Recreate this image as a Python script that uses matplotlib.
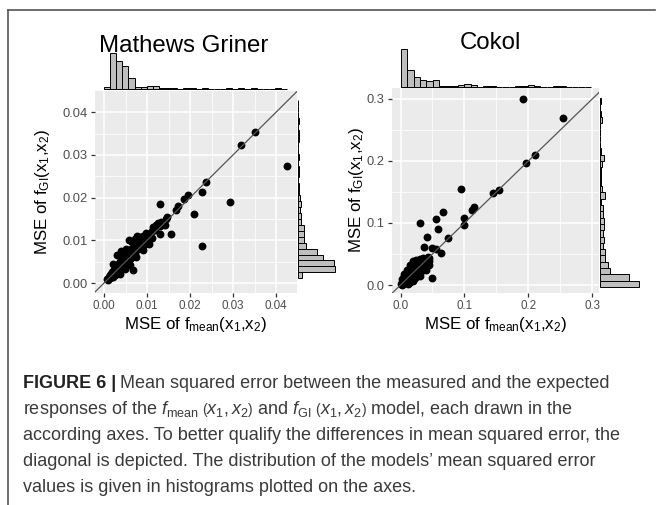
import numpy as np
import matplotlib
matplotlib.use("Agg")
import matplotlib.pyplot as plt
from matplotlib.lines import Line2D

plt.rcParams['font.family'] = ['Liberation Sans', 'DejaVu Sans']
plt.rcParams['mathtext.fontset'] = 'custom'
plt.rcParams['mathtext.rm'] = 'Liberation Sans'
plt.rcParams['mathtext.it'] = 'Liberation Sans:italic'
plt.rcParams['mathtext.bf'] = 'Liberation Sans:bold'

# ---- Mathews Griner: MSE of f_mean (x) vs MSE of f_GI (y)
mg_x = [0.0350, 0.0319, 0.0426, 0.0236, 0.0228, 0.0294, 0.0129, 0.0195, 0.0185, 0.0171,
        0.0168, 0.0209, 0.0147, 0.0155, 0.0129, 0.0228, 0.0057, 0.0138, 0.0068,
        0.0008, 0.0010, 0.0012, 0.0013, 0.0015, 0.0016, 0.0017, 0.0018, 0.0019, 0.0020,
        0.0021, 0.0022, 0.0023, 0.0024, 0.0025, 0.0026, 0.0027, 0.0028, 0.0029, 0.0030,
        0.0031, 0.0032, 0.0033, 0.0034, 0.0035, 0.0036, 0.0037, 0.0038, 0.0039, 0.0040,
        0.0041, 0.0042, 0.0043, 0.0044, 0.0046, 0.0047, 0.0048, 0.0050, 0.0051, 0.0052,
        0.0054, 0.0055, 0.0056, 0.0058, 0.0060, 0.0061, 0.0063, 0.0065, 0.0066, 0.0069,
        0.0071, 0.0073, 0.0075, 0.0077, 0.0078, 0.0080, 0.0083, 0.0085, 0.0088, 0.0090,
        0.0093, 0.0095, 0.0099, 0.0103, 0.0107, 0.0111, 0.0114, 0.0118, 0.0121, 0.0125,
        0.0129, 0.0133, 0.0138, 0.0142, 0.0145, 0.0028, 0.0045, 0.0052, 0.0035, 0.0062,
        0.0040, 0.0050, 0.0030, 0.0065, 0.0072, 0.0060, 0.0075, 0.0090, 0.0105, 0.0020,
        0.0038, 0.0048, 0.0085, 0.0098, 0.0112]
mg_y = [0.0353, 0.0323, 0.0274, 0.0237, 0.0212, 0.0190, 0.0184, 0.0207, 0.0196, 0.0180,
        0.0171, 0.0162, 0.0154, 0.0115, 0.0114, 0.0087, 0.0101, 0.0140, 0.0030,
        0.0010, 0.0008, 0.0015, 0.0011, 0.0019, 0.0013, 0.0022, 0.0016, 0.0025, 0.0019,
        0.0014, 0.0028, 0.0022, 0.0031, 0.0018, 0.0026, 0.0034, 0.0022, 0.0030, 0.0038,
        0.0025, 0.0042, 0.0033, 0.0028, 0.0046, 0.0037, 0.0050, 0.0031, 0.0043, 0.0055,
        0.0036, 0.0048, 0.0058, 0.0040, 0.0052, 0.0061, 0.0045, 0.0057, 0.0064, 0.0048,
        0.0060, 0.0069, 0.0052, 0.0065, 0.0073, 0.0056, 0.0070, 0.0078, 0.0061, 0.0075,
        0.0083, 0.0068, 0.0088, 0.0110, 0.0079, 0.0092, 0.0108, 0.0084, 0.0096, 0.0111,
        0.0089, 0.0103, 0.0112, 0.0098, 0.0110, 0.0122, 0.0131, 0.0125, 0.0135, 0.0140,
        0.0133, 0.0143, 0.0140, 0.0136, 0.0150, 0.0040, 0.0060, 0.0058, 0.0030, 0.0080,
        0.0075, 0.0080, 0.0065, 0.0095, 0.0104, 0.0042, 0.0062, 0.0078, 0.0092, 0.0045,
        0.0022, 0.0032, 0.0100, 0.0118, 0.0105]

# marginal histogram counts (30 bins each)
mg_top_counts = [2, 36, 28, 23, 11, 2, 2, 3, 3, 1, 1, 1, 0, 1, 1, 0, 1, 0, 0, 0,
                 1, 0, 1, 0, 1, 0, 0, 0, 1, 0]
mg_right_counts = [4, 37, 36, 25, 19, 8, 6, 6, 6, 3, 3, 2, 3, 2, 1, 1, 0, 1, 1, 0,
                   1, 0, 0, 1, 1, 0, 1, 0, 0, 0]

# ---- Cokol
ck_x = [0.192, 0.254, 0.210, 0.197, 0.154, 0.144, 0.094, 0.115, 0.112, 0.100, 0.099,
        0.067, 0.055, 0.058, 0.031, 0.041, 0.075, 0.037, 0.050, 0.055, 0.063, 0.050,
        0.001, 0.002, 0.003, 0.004, 0.005, 0.006, 0.007, 0.008, 0.009, 0.010, 0.011,
        0.012, 0.013, 0.014, 0.015, 0.016, 0.017, 0.018, 0.019, 0.020, 0.021, 0.022,
        0.023, 0.024, 0.025, 0.026, 0.027, 0.028, 0.029, 0.030, 0.031, 0.032, 0.033,
        0.034, 0.035, 0.036, 0.037, 0.038, 0.039, 0.040, 0.041, 0.042, 0.043, 0.044,
        0.045, 0.010, 0.012, 0.015, 0.008, 0.020, 0.006, 0.018, 0.022, 0.025, 0.028,
        0.032, 0.035, 0.038, 0.013, 0.016, 0.003, 0.005, 0.002, 0.004, 0.006, 0.003,
        0.005, 0.010, 0.015, 0.020, 0.025, 0.030, 0.012, 0.020, 0.030, 0.040, 0.045,
        0.035, 0.028, 0.018]
ck_y = [0.300, 0.269, 0.210, 0.196, 0.154, 0.148, 0.155, 0.126, 0.121, 0.108, 0.097,
        0.118, 0.107, 0.090, 0.100, 0.077, 0.075, 0.061, 0.059, 0.058, 0.051, 0.012,
        0.002, 0.001, 0.004, 0.002, 0.006, 0.003, 0.008, 0.005, 0.011, 0.007, 0.014,
        0.009, 0.017, 0.011, 0.020, 0.013, 0.023, 0.015, 0.026, 0.017, 0.028, 0.019,
        0.030, 0.021, 0.032, 0.023, 0.033, 0.025, 0.034, 0.027, 0.036, 0.029, 0.031,
        0.038, 0.030, 0.035, 0.040, 0.033, 0.037, 0.042, 0.036, 0.040, 0.045, 0.039,
        0.043, 0.020, 0.024, 0.027, 0.016, 0.033, 0.012, 0.008, 0.012, 0.016, 0.018,
        0.022, 0.025, 0.028, 0.003, 0.006, 0.010, 0.014, 0.005, 0.007, 0.009, 0.000,
        0.018, 0.025, 0.032, 0.038, 0.040, 0.042, 0.002, 0.006, 0.015, 0.025, 0.032,
        0.044, 0.038, 0.030]

ck_top_counts = [38, 17, 10, 7, 6, 7, 1, 1, 1, 2, 3, 2, 0, 1, 1, 0, 0, 0, 1, 1,
                 2, 1, 0, 0, 1, 1, 0, 0, 0, 0]
ck_right_counts = [39, 29, 10, 8, 5, 5, 3, 4, 3, 4, 4, 3, 3, 1, 5, 2, 1, 1, 1, 2,
                   4, 1, 0, 0, 0, 0, 2, 1, 0, 1]

W, H = 657, 505
fig = plt.figure(figsize=(W / 100, H / 100), dpi=100)


def rect(x0, y0, x1, y1):
    return [x0 / W, 1 - y1 / H, (x1 - x0) / W, (y1 - y0) / H]


def scatter_panel(r, x, y, lim_x, lim_y, major, minor, fmt):
    ax = fig.add_axes(r)
    ax.set_facecolor('#EBEBEB')
    ax.set_xlim(lim_x)
    ax.set_ylim(lim_y)
    ax.set_xticks(major)
    ax.set_yticks(major)
    ax.set_xticks(minor, minor=True)
    ax.set_yticks(minor, minor=True)
    ax.set_xticklabels([fmt % v for v in major])
    ax.set_yticklabels([fmt % v for v in major])
    ax.grid(True, which='major', color='white', lw=1.1)
    ax.grid(True, which='minor', color='white', lw=0.55)
    ax.set_axisbelow(True)
    for s in ax.spines.values():
        s.set_visible(False)
    ax.tick_params(which='major', length=3, width=0.9, color='#333333',
                   labelcolor='#4D4D4D', pad=2)
    ax.tick_params(axis='x', labelsize=8.4)
    ax.tick_params(axis='y', labelsize=9.3)
    ax.tick_params(which='minor', length=0)
    ax.scatter(x, y, s=32, c='black', lw=0, zorder=3)
    lo = min(lim_x[0], lim_y[0])
    hi = max(lim_x[1], lim_y[1])
    ax.plot([lo, hi], [lo, hi], color='#555555', lw=0.9, zorder=4)
    return ax


def top_hist(r, counts, start, width, lim_x):
    ax = fig.add_axes(r)
    centers = start + width * np.arange(len(counts))
    ax.bar(centers, counts, width=width, color='#BEBEBE', edgecolor='black',
           lw=0.7, clip_on=False)
    ax.set_xlim(lim_x)
    ax.set_ylim(0, max(counts))
    ax.axis('off')


def right_hist(r, counts, start, width, lim_y):
    ax = fig.add_axes(r)
    centers = start + width * np.arange(len(counts))
    ax.barh(centers, counts, height=width, color='#BEBEBE', edgecolor='black',
            lw=0.7, clip_on=False)
    ax.set_ylim(lim_y)
    ax.set_xlim(0, max(counts))
    ax.axis('off')


# left panel
mg_lx, mg_ly = (-0.0021, 0.0448), (-0.00227, 0.04496)
scatter_panel(rect(95, 91, 296.7, 292.7), mg_x, mg_y, mg_lx, mg_ly,
              [0, 0.01, 0.02, 0.03, 0.04], [0.005, 0.015, 0.025, 0.035], '%.2f')
top_hist(rect(95, 53.3, 296.7, 89.5), mg_top_counts, 0.00071, 0.00142, mg_lx)
right_hist(rect(297.7, 91, 334.7, 292.7), mg_right_counts, 0.0018, 0.00139, mg_ly)

# right panel
ck_lx, ck_ly = (-0.0138, 0.311), (-0.0124, 0.3172)
scatter_panel(rect(391.7, 88.3, 599.3, 292.7), ck_x, ck_y, ck_lx, ck_ly,
              [0, 0.1, 0.2, 0.3], [0.05, 0.15, 0.25], '%.1f')
top_hist(rect(391.7, 49.3, 599.3, 87.3), ck_top_counts, 0.00575, 0.0099, ck_lx)
right_hist(rect(600, 88.3, 639, 292.7), ck_right_counts, 0.0019, 0.01016, ck_ly)


def fx(p):
    return p / W


def fy(p):
    return 1 - p / H


ylab = r'MSE of f$_{\mathrm{GI}}$(x$_1$,x$_2$)'
xlab = r'MSE of f$_{\mathrm{mean}}$(x$_1$,x$_2$)'
fig.text(fx(42), fy(192), ylab, rotation=90, ha='center', va='center', fontsize=12.2)
fig.text(fx(356), fy(190), ylab, rotation=90, ha='center', va='center', fontsize=12.2)
fig.text(fx(196), fy(329), xlab, ha='center', va='baseline', fontsize=12.2)
fig.text(fx(495.5), fy(329), xlab, ha='center', va='baseline', fontsize=12.2)

fig.text(fx(184), fy(51.7), 'Mathews Griner', ha='center', va='baseline', fontsize=17.3)
fig.text(fx(490), fy(49.3), 'Cokol', ha='center', va='baseline', fontsize=17.3)

# frame
fig.add_artist(Line2D([fx(7.5), fx(655)], [fy(10), fy(10)], color='#555555', lw=1.2))
fig.add_artist(Line2D([fx(7.5), fx(7.5)], [fy(10), fy(505)], color='#555555', lw=1.2))

# caption
cap_size = 12.95
cap_col = '#3A3A3A'
x0 = fx(22.7)
b = fig.text(x0, fy(388.3), 'FIGURE 6 |', fontsize=cap_size, fontweight='bold',
             color='#222222', va='baseline')
renderer = fig.canvas.get_renderer()
bb = b.get_window_extent(renderer)
fig.text((bb.x1 + 4) / W, fy(388.3), 'Mean squared error between the measured and the expected',
         fontsize=cap_size, color=cap_col, va='baseline')
lines = [
    r'responses of the $f_{\mathrm{mean}}\;\left(x_1, x_2\right)$ and $f_{\mathrm{GI}}\;\left(x_1, x_2\right)$ model, each drawn in the',
    'according axes. To better qualify the differences in mean squared error, the',
    'diagonal is depicted. The distribution of the models\u2019 mean squared error',
    'values is given in histograms plotted on the axes.',
]
for i, t in enumerate(lines):
    fig.text(x0, fy(388.3 + 25.8 * (i + 1)), t, fontsize=cap_size, color=cap_col,
             va='baseline')

fig.savefig('out.png', dpi=100)
